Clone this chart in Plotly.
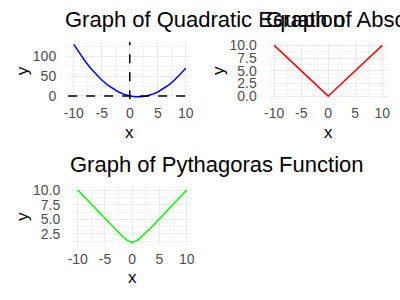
import plotly.graph_objects as go

# ---- data ----
x_vals = [-10, -9, -8, -7, -6, -5, -4, -3, -2, -1, 0, 1, 2, 3, 4, 5, 6, 7, 8, 9, 10]
quad_y = [130, 108, 88, 70, 54, 40, 28, 18, 10, 4, 0, -2, -2, 0, 4, 10, 18, 28, 40, 54, 70]
abs_y = [10, 9, 8, 7, 6, 5, 4, 3, 2, 1, 0, 1, 2, 3, 4, 5, 6, 7, 8, 9, 10]
pyth_y = [10.05, 9.06, 8.06, 7.07, 6.08, 5.10, 4.12, 3.16, 2.24, 1.41, 1.0,
          1.41, 2.24, 3.16, 4.12, 5.10, 6.08, 7.07, 8.06, 9.06, 10.05]
titles = ["Graph of Quadratic Equation", "Graph of Absolute Value Function",
          "Graph of Pythagoras Function"]
x_ticks = [-10, -5, 0, 5, 10]
quad_ticks = [0, 50, 100]
abs_ticks = [0, 2.5, 5, 7.5, 10]
abs_ticklabels = ["0.0", "2.5", "5.0", "7.5", "10.0"]
pyth_ticks = [2.5, 5, 7.5, 10]
pyth_ticklabels = ["2.5", "5.0", "7.5", "10.0"]
hline_y = [0]
vline_x = [0]

W, H = 400, 300

def expand(vals, f=0.05):
    lo, hi = min(vals), max(vals)
    d = (hi - lo) * f
    return [lo - d, hi + d]

def px_dom_x(a, b):
    return [a / W, b / W]

def px_dom_y(top, bottom):
    return [1 - bottom / H, 1 - top / H]

fig = go.Figure()
fig.add_trace(go.Scatter(x=x_vals, y=quad_y, mode="lines", line=dict(color="#0000FF", width=1.5),
                         xaxis="x", yaxis="y", showlegend=False))
fig.add_trace(go.Scatter(x=x_vals, y=abs_y, mode="lines", line=dict(color="#FF0000", width=1.5),
                         xaxis="x2", yaxis="y2", showlegend=False))
fig.add_trace(go.Scatter(x=x_vals, y=pyth_y, mode="lines", line=dict(color="#00FF00", width=1.5),
                         xaxis="x3", yaxis="y3", showlegend=False))

grid = "#EBEBEB"
minor_grid = "#F3F3F3"
tickfont = dict(family="Liberation Sans, Arial", size=14, color="#4D4D4D")

def xaxis(dom, anchor):
    return dict(domain=dom, anchor=anchor, range=expand(x_vals), tickvals=x_ticks,
                ticktext=[str(v) for v in x_ticks], showgrid=True, gridcolor=grid, gridwidth=1,
                zeroline=False, showline=False, ticks="", tickfont=tickfont, ticklabelstandoff=4,
                minor=dict(tickvals=[-7.5, -2.5, 2.5, 7.5], showgrid=True, gridcolor=minor_grid, gridwidth=1))

def yaxis(dom, anchor, rng, tv, tt, minor_vals):
    return dict(domain=dom, anchor=anchor, range=rng, tickvals=tv, ticktext=tt, showgrid=True,
                gridcolor=grid, gridwidth=1, zeroline=False, showline=False, ticks="",
                tickfont=tickfont, ticklabelstandoff=11,
                minor=dict(tickvals=minor_vals, showgrid=True, gridcolor=minor_grid, gridwidth=1))

fig.update_layout(
    width=W, height=H, margin=dict(l=0, r=0, t=0, b=0),
    paper_bgcolor="white", plot_bgcolor="white",
    xaxis=xaxis(px_dom_x(64.3, 189.7), "y"),
    yaxis=yaxis(px_dom_y(38, 97.6), "x", expand(quad_y), quad_ticks, [str(v) for v in quad_ticks],
                [25, 75, 125]),
    xaxis2=xaxis(px_dom_x(268.5, 389.5), "y2"),
    yaxis2=yaxis(px_dom_y(39.1, 96.9), "x2", expand(abs_y), abs_ticks, abs_ticklabels,
                 [1.25, 3.75, 6.25, 8.75]),
    xaxis3=xaxis(px_dom_x(68.5, 190.5), "y3"),
    yaxis3=yaxis(px_dom_y(188.7, 248.4), "x3", expand(pyth_y), pyth_ticks, pyth_ticklabels,
                 [1.25, 3.75, 6.25, 8.75]),
)

for yv in hline_y:
    fig.add_shape(type="line", xref="x domain", yref="y", x0=0, x1=1, y0=yv, y1=yv,
                  line=dict(color="black", width=1.5, dash="dash"))
for xv in vline_x:
    fig.add_shape(type="line", xref="x", yref="y domain", x0=xv, x1=xv, y0=0, y1=1,
                  line=dict(color="black", width=1.5, dash="dash"))

title_font = dict(family="Liberation Sans, Arial", size=22, color="black")
axis_font = dict(family="Liberation Sans, Arial", size=17, color="black")
title_pos = [(59.5, 15), (263.5, 15), (64.5, 165)]
for t, (px, py) in zip(titles, title_pos):
    fig.add_annotation(text=t, x=px / W, y=1 - py / H, xref="paper", yref="paper",
                       xanchor="left", yanchor="middle", showarrow=False, font=title_font)

x_title_pos = [(127, 132), (329, 132), (129.5, 282)]
y_title_pos = [(18, 67.8), (218, 68), (18, 218.5)]
for (px, py) in x_title_pos:
    fig.add_annotation(text="x", x=px / W, y=1 - py / H, xref="paper", yref="paper",
                       xanchor="center", yanchor="middle", showarrow=False, font=axis_font)
for (px, py) in y_title_pos:
    fig.add_annotation(text="y", x=px / W, y=1 - py / H, xref="paper", yref="paper",
                       xanchor="center", yanchor="middle", showarrow=False, font=axis_font,
                       textangle=-90)

fig.write_html("out.html")
